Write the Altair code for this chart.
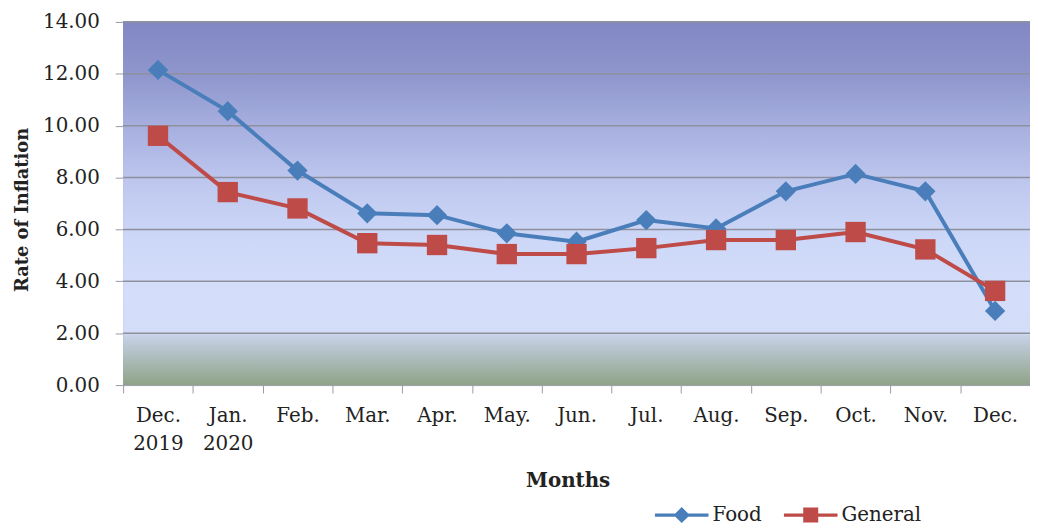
import altair as alt
import pandas as pd

months = ["Dec. 2019", "Jan. 2020", "Feb.", "Mar.", "Apr.", "May.", "Jun.",
          "Jul.", "Aug.", "Sep.", "Oct.", "Nov.", "Dec."]
food = [12.15, 10.56, 8.27, 6.62, 6.55, 5.85, 5.53, 6.36, 6.04, 7.47, 8.14, 7.47, 2.86]
general = [9.61, 7.44, 6.81, 5.47, 5.40, 5.05, 5.05, 5.28, 5.59, 5.59, 5.90, 5.23, 3.63]
series_names = ["Food", "General"]
series_colors = ["#4A7EBB", "#BE4B48"]
y_ticks = [0, 2, 4, 6, 8, 10, 12, 14]
grid_vals = [2, 4, 6, 8, 10, 12, 14]

W, H = 914, 366
FONT = "DejaVu Serif"

rows = []
for m, f, g in zip(months, food, general):
    rows.append({"month": m, "series": "Food", "value": f})
    rows.append({"month": m, "series": "General", "value": g})
df = pd.DataFrame(rows)

x_axis = alt.Axis(title="Months", labelAngle=0,
                  labelExpr="split(datum.label, ' ')",
                  labelFont=FONT, labelFontSize=20, labelColor="#222222",
                  labelLineHeight=28, labelBaseline="top", labelPadding=13,
                  tickSize=8, tickColor="#9a9aa8", tickBand="extent",
                  domainColor="#9a9aa8", domainWidth=1,
                  titleFont=FONT, titleFontSize=20, titleFontWeight="bold",
                  titleColor="#222222", titleX=448, titleY=96,
                  titleAlign="center", titleBaseline="middle")
x_enc = alt.X("month:N", sort=months,
              scale=alt.Scale(domain=months, paddingInner=0, paddingOuter=0),
              axis=x_axis)
y_scale = alt.Scale(domain=[0, 14], nice=False, zero=True)
y_axis = alt.Axis(title="Rate of Inflation", values=y_ticks, format=".2f",
                  grid=False, labelFont=FONT, labelFontSize=20,
                  labelColor="#222222", labelPadding=16, tickSize=8,
                  tickColor="#9a9aa8", domainColor="#9a9aa8",
                  titleFont=FONT, titleFontSize=18, titleFontWeight="bold",
                  titleColor="#222222", titleX=-101, titleY=189,
                  titleAlign="center", titleBaseline="middle", titleAngle=270)
y_enc = alt.Y("value:Q", scale=y_scale, axis=y_axis)

color_scale = alt.Scale(domain=series_names, range=series_colors)

grad = alt.LinearGradient(
    gradient="linear", x1=0, x2=0, y1=0, y2=1,
    stops=[
        alt.GradientStop(offset=0.0, color="#8187C3"),
        alt.GradientStop(offset=0.15, color="#8F97CD"),
        alt.GradientStop(offset=0.30, color="#A8B1E0"),
        alt.GradientStop(offset=0.45, color="#BFC9EF"),
        alt.GradientStop(offset=0.60, color="#CDD7F7"),
        alt.GradientStop(offset=0.75, color="#D4DEFA"),
        alt.GradientStop(offset=0.855, color="#D3DDF8"),
        alt.GradientStop(offset=0.865, color="#C6D1E6"),
        alt.GradientStop(offset=1.0, color="#8EA388"),
    ])

bg_df = pd.DataFrame({"lo": [0], "hi": [14]})
bg = alt.Chart(bg_df).mark_rect(fill=grad).encode(
    y=alt.Y("hi:Q", scale=y_scale, axis=y_axis), y2="lo:Q",
    x=alt.value(0), x2=alt.value(W))

grid_df = pd.DataFrame({"g": grid_vals})
grid = alt.Chart(grid_df).mark_rule(color="#8E909E", strokeWidth=1.6).encode(
    y=alt.Y("g:Q", scale=y_scale, axis=y_axis))

lines = alt.Chart(df).mark_line(strokeWidth=4).encode(
    x=x_enc, y=y_enc,
    color=alt.Color("series:N", scale=color_scale, legend=None))

pts = alt.Chart(df).mark_point(filled=True, opacity=1, size=420).encode(
    x=x_enc, y=y_enc,
    color=alt.Color("series:N", scale=color_scale, legend=None),
    shape=alt.Shape("series:N",
                    scale=alt.Scale(domain=series_names, range=["diamond", "square"]),
                    legend=None))

food_sym = ("M-1,-0.06 L-0.24,-0.06 L0,-0.3 L0.24,-0.06 L1,-0.06 L1,0.06 "
            "L0.24,0.06 L0,0.3 L-0.24,0.06 L-1,0.06 Z")
gen_sym = ("M-1,-0.06 L-0.28,-0.06 L-0.28,-0.28 L0.28,-0.28 L0.28,-0.06 L1,-0.06 "
           "L1,0.06 L0.28,0.06 L0.28,0.28 L-0.28,0.28 L-0.28,0.06 L-1,0.06 Z")

legend = alt.Legend(title=None, orient="none", direction="horizontal",
                    legendX=536, legendY=470, symbolSize=2916, symbolStrokeWidth=0,
                    labelFont=FONT, labelFontSize=20, labelColor="#222222",
                    labelOffset=4, columnPadding=22, padding=0)

leg = alt.Chart(df).transform_filter("false").mark_point(
    filled=True, opacity=1, size=2916).encode(
    color=alt.Color("series:N", scale=color_scale, legend=legend),
    shape=alt.Shape("series:N",
                    scale=alt.Scale(domain=series_names, range=[food_sym, gen_sym]),
                    legend=legend))

chart = alt.layer(bg, grid, lines, pts, leg).resolve_scale(
    shape="independent", color="independent").properties(
    width=W, height=H,
    autosize=alt.AutoSizeParams(type="none"),
    padding={"left": 116, "top": 12, "right": 0, "bottom": 140},
    background="white",
).configure_view(stroke=None)

chart.save("out.html", embed_options={"renderer": "svg", "actions": False})
